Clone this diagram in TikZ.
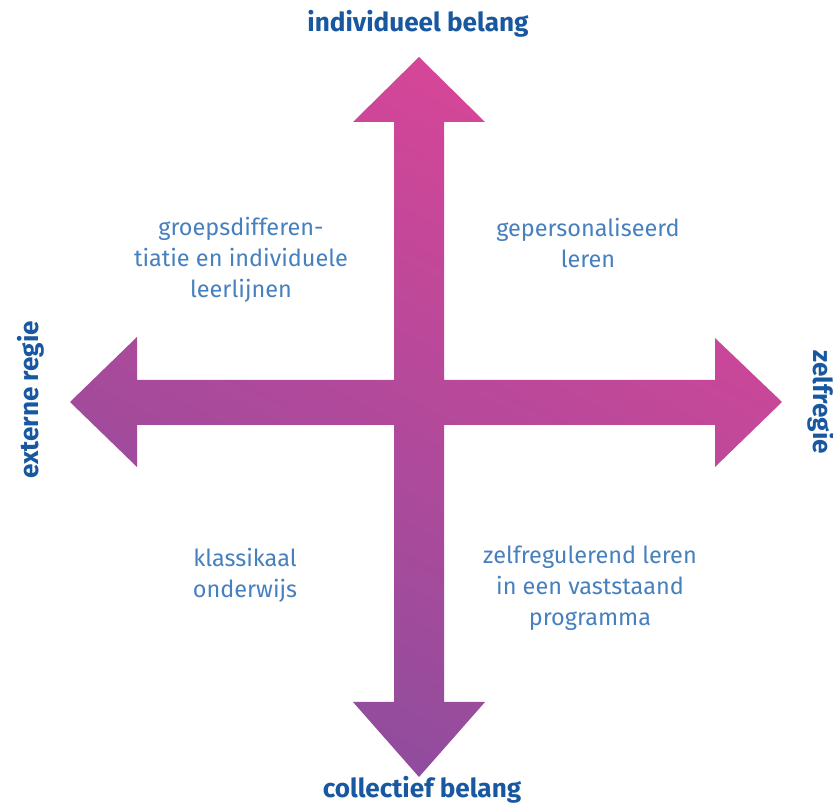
\documentclass[tikz,border=0pt]{standalone}
\usepackage{fontspec}
\usetikzlibrary{shadings}
\setmainfont{Fira Sans}
\definecolor{labelblue}{RGB}{24,88,160}
\definecolor{textblue}{RGB}{70,128,190}
\definecolor{cUL}{RGB}{196,71,153}
\definecolor{cUR}{RGB}{232,68,150}
\definecolor{cLL}{RGB}{126,78,158}
\definecolor{cLR}{RGB}{164,75,156}
\tikzset{
  axislabel/.style={font=\bfseries\fontsize{19.6}{22}\selectfont, text=labelblue, inner sep=0pt},
  quadtext/.style={font=\fontsize{17.6}{23.3}\selectfont, text=textblue, align=center, inner sep=0pt},
}
\begin{document}
\begin{tikzpicture}[x=0.75pt,y=-0.75pt]
\useasboundingbox (0,0) rectangle (833,805);
\fill[white] (0,0) rectangle (833,805);
\shade[upper left=cUL, upper right=cUR, lower left=cLL, lower right=cLR]
  (419,57) -- (485,122) -- (444,122) -- (444,380) -- (715,380) -- (715,338)
  -- (782,402) -- (715,467) -- (715,425) -- (444,425) -- (444,702) -- (485,702)
  -- (419,777) -- (353,702) -- (394,702) -- (394,425) -- (137,425) -- (137,467)
  -- (70,402) -- (137,337) -- (137,380) -- (394,380) -- (394,122) -- (353,122) -- cycle;
\node[axislabel] (top) at (418,24) {individueel belang};
\node[axislabel] (bottom) at (422,790) {collectief belang};
\node[axislabel, rotate=90] (left) at (31,400) {externe regie};
\node[axislabel, rotate=-90] (right) at (821,402) {zelfregie};
\node[quadtext] (ul) at (241,260) {groepsdifferen-\\tiatie en individuele\\leerlijnen};
\node[quadtext] (ur) at (588,243) {gepersonaliseerd\\leren};
\node[quadtext] (ll) at (245,575) {klassikaal\\onderwijs};
\node[quadtext] (lr) at (590,588) {zelfregulerend leren\\in een vaststaand\\programma};
\end{tikzpicture}
\end{document}
